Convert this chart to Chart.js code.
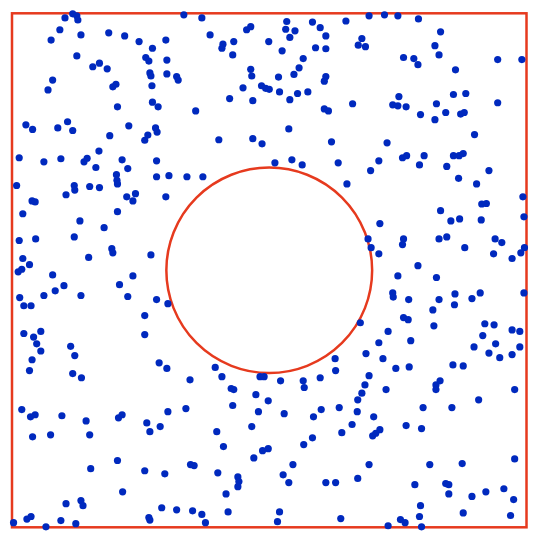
<!DOCTYPE html>
<html>
<head>
<meta charset="utf-8">
<script src="https://cdn.jsdelivr.net/npm/chart.js@4/dist/chart.umd.min.js"></script>
<style>
html,body{margin:0;padding:0;background:#fff;}
#wrap{width:540px;height:540px;}
</style>
</head>
<body>
<div id="wrap"><canvas id="c" width="540" height="540"></canvas></div>
<script>
// Sample points (unit square, outside the excluded disc)
const xs = [
.103,.118,.126,.128,.093,.076,.134,.188,.219,.247,.273,.299,.126,.157,.170,.185,.260,.266,.301,.079,.070,.196,.202,.268,.270,.301,.320,.323,.272,.205,.273,.284,.027,.040,.089,.108,.118,.227,.190,.258,.264,.279,.282,.014,.062,.095,.140,.146,.169,.163,.214,.225,.281,.203,.281,.305,
.334,.369,.385,.410,.408,.431,.429,.456,.464,.499,.534,.532,.550,.540,.525,.584,.599,.610,.590,.610,.649,.464,.466,.518,.548,.558,.566,.610,.607,.449,.485,.493,.500,.520,.540,.555,.575,.423,.468,.357,.607,.615,.662,.538,.402,.468,.486,.621,.511,.544,.564,.634,.340,.371,
.694,.724,.750,.790,.833,.680,.673,.687,.822,.830,.761,.781,.789,.944,.991,.862,.752,.740,.750,.766,.794,.822,.825,.843,.858,.882,.872,.879,.944,.899,.729,.713,.697,.759,.767,.801,.792,.845,.858,.869,.877,.927,.868,
.009,.121,.122,.105,.151,.170,.204,.205,.223,.240,.235,.299,.039,.045,.021,.132,.205,.179,.121,.014,.046,.194,.196,.270,.149,.021,.034,.012,.019,.079,.235,.209,.101,.084,.062,.134,.015,.023,.037,.225,.281,.303,.258,.023,.042,.048,.056,.258,.114,.056,
.651,.677,
.903,.993,.913,.922,.833,.853,.870,.912,.995,.715,.692,.698,.713,.761,.759,.830,.845,.880,.939,.952,.936,.972,.989,.996,.789,.750,.825,.740,.741,.771,.830,.861,.860,.894,.910,.995,.818,.761,.770,.820,.919,.937,.731,.775,.713,.915,.972,.987,.898,.940,.987,
.039,.034,.122,.118,.135,.286,.301,.019,.036,.045,.097,.144,.040,.075,.151,.207,.214,.262,.268,.288,.303,.153,.205,.258,.297,.215,.105,.134,.138,.291,.320,.266,.268,.003,.029,.037,.066,.095,.124,
.628,.629,.395,.408,.346,.482,.490,.522,.566,.568,.599,.426,.431,.474,.498,.429,.338,.479,.529,.586,.601,.636,.672,.680,.686,.694,.671,.661,.641,.398,.411,.466,.487,.498,.470,.567,.584,.347,.354,.400,.439,.441,.439,.416,.527,.546,.538,.610,.629,.672,.351,.369,.376,.420,.520,.516,.639,
.927,.948,.972,.688,.721,.746,.772,.857,.877,.977,.907,.727,.824,.832,.824,.799,.855,.703,.701,.707,.715,.766,.796,.694,.812,.875,.977,.783,.843,.849,.849,.894,.921,.956,.975,.794,.792,.796,.877,.969,.731,.755,.764
];
const ys = [
.991,.999,.995,.987,.968,.948,.958,.962,.956,.945,.932,.948,.917,.896,.903,.892,.914,.907,.909,.870,.851,.857,.862,.884,.878,.882,.877,.870,.859,.818,.827,.818,.783,.774,.777,.789,.772,.781,.762,.753,.763,.777,.769,.719,.711,.717,.711,.718,.732,.700,.715,.698,.713,.686,.682,.684,
.997,.991,.958,.940,.932,.945,.919,.968,.974,.945,.984,.969,.966,.953,.927,.983,.972,.956,.933,.931,.985,.891,.878,.876,.881,.894,.912,.877,.868,.855,.859,.854,.852,.847,.832,.844,.847,.834,.830,.810,.814,.810,.824,.775,.754,.756,.746,.750,.709,.715,.705,.709,.682,.682,
.995,.997,.995,.989,.964,.951,.938,.935,.937,.919,.914,.912,.900,.910,.910,.890,.838,.822,.820,.818,.803,.793,.824,.807,.842,.844,.804,.807,.826,.764,.748,.713,.694,.719,.723,.723,.705,.702,.723,.723,.727,.694,.679,
.665,.665,.656,.647,.663,.661,.675,.668,.643,.649,.635,.643,.635,.633,.610,.596,.614,.583,.565,.558,.561,.542,.534,.530,.525,.523,.511,.497,.502,.491,.489,.472,.470,.460,.451,.451,.447,.431,.431,.449,.443,.435,.412,.377,.370,.357,.381,.375,.352,.343,
.668,.398,
.668,.643,.629,.630,.616,.596,.600,.598,.604,.591,.561,.544,.532,.561,.550,.561,.565,.544,.561,.554,.532,.523,.534,.544,.509,.489,.486,.456,.448,.443,.443,.454,.433,.445,.456,.456,.423,.408,.404,.392,.396,.394,.381,.363,.359,.373,.384,.381,.351,.357,.351,
.326,.305,.334,.299,.291,.320,.309,.229,.215,.219,.217,.207,.176,.180,.180,.213,.219,.203,.186,.196,.225,.114,.130,.110,.104,.069,.046,.052,.042,.038,.034,.019,.014,.009,.016,.021,.001,.013,.007,
.328,.305,.311,.293,.287,.293,.293,.285,.285,.272,.291,.270,.268,.258,.246,.237,.231,.225,.221,.215,.229,.233,.248,.261,.277,.295,.225,.200,.184,.186,.157,.196,.149,.153,.135,.161,.174,.122,.120,.106,.098,.089,.079,.065,.102,.122,.087,.087,.087,.095,.032,.025,.009,.030,.030,.011,.017,
.339,.330,.336,.338,.328,.309,.312,.316,.314,.268,.248,.268,.277,.285,.268,.233,.233,.215,.178,.183,.190,.198,.192,.122,.122,.124,.133,.083,.085,.083,.065,.060,.069,.075,.054,.042,.021,.001,.028,.023,.003,.015,.009
];
// Excluded disc and frame
const discCenter = [0.5, 0.5];
const discRadius = 0.2;
const frameMin = 0, frameMax = 1;

const points = xs.map((x, i) => ({x: x, y: ys[i]}));

const RED = '#E63A1E';
const BLUE = '#0029BE';

const shapes = {
  id: 'shapes',
  beforeDatasetsDraw(chart) {
    const {ctx, scales: {x, y}} = chart;
    ctx.save();
    ctx.strokeStyle = RED;
    ctx.lineWidth = 2.5;
    // frame
    const x0 = x.getPixelForValue(frameMin), x1 = x.getPixelForValue(frameMax);
    const y0 = y.getPixelForValue(frameMax), y1 = y.getPixelForValue(frameMin);
    ctx.strokeRect(x0, y0, x1 - x0, y1 - y0);
    // disc
    const cx = x.getPixelForValue(discCenter[0]);
    const cy = y.getPixelForValue(discCenter[1]);
    const rx = Math.abs(x.getPixelForValue(discCenter[0] + discRadius) - cx);
    const ry = Math.abs(y.getPixelForValue(discCenter[1] + discRadius) - cy);
    ctx.beginPath();
    ctx.ellipse(cx, cy, rx, ry, 0, 0, Math.PI * 2);
    ctx.stroke();
    ctx.restore();
  }
};

new Chart(document.getElementById('c'), {
  type: 'scatter',
  data: {
    datasets: [{
      data: points,
      backgroundColor: BLUE,
      borderWidth: 0,
      pointRadius: 3.6,
      pointHoverRadius: 3.6,
      clip: false
    }]
  },
  options: {
    responsive: false,
    animation: false,
    events: [],
    layout: {padding: {left: 12, right: 13.5, top: 13.3, bottom: 12.7}},
    plugins: {legend: {display: false}, tooltip: {enabled: false}},
    scales: {
      x: {type: 'linear', min: 0, max: 1, display: false},
      y: {type: 'linear', min: 0, max: 1, display: false}
    }
  },
  plugins: [shapes]
});
</script>
</body>
</html>
